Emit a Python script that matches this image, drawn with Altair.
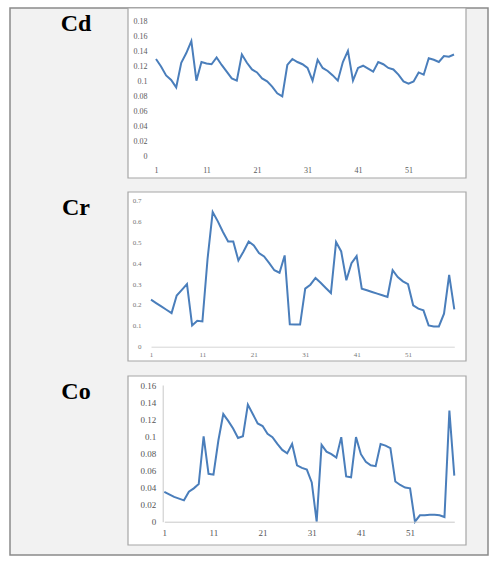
import altair as alt
import pandas as pd

idx = list(range(1, 61))

cd = [0.130, 0.120, 0.108, 0.102, 0.092, 0.125, 0.138, 0.154, 0.101, 0.126,
      0.124, 0.123, 0.132, 0.122, 0.113, 0.104, 0.101, 0.136, 0.125, 0.116,
      0.112, 0.104, 0.100, 0.093, 0.084, 0.080, 0.122, 0.130, 0.126, 0.123,
      0.118, 0.101, 0.129, 0.118, 0.114, 0.108, 0.101, 0.126, 0.141, 0.101,
      0.118, 0.121, 0.117, 0.113, 0.126, 0.123, 0.118, 0.116, 0.109, 0.100,
      0.097, 0.100, 0.112, 0.109, 0.131, 0.129, 0.126, 0.134, 0.133, 0.136]

cr = [0.225, 0.209, 0.193, 0.177, 0.161, 0.245, 0.272, 0.300, 0.102, 0.124,
      0.121, 0.420, 0.645, 0.600, 0.549, 0.504, 0.504, 0.413, 0.456, 0.504,
      0.485, 0.448, 0.432, 0.400, 0.366, 0.354, 0.437, 0.107, 0.106, 0.106,
      0.278, 0.297, 0.329, 0.306, 0.281, 0.257, 0.501, 0.456, 0.318, 0.400,
      0.434, 0.278, 0.270, 0.262, 0.254, 0.246, 0.238, 0.366, 0.333, 0.313,
      0.299, 0.198, 0.182, 0.174, 0.102, 0.097, 0.097, 0.158, 0.344, 0.179]

co = [0.035, 0.032, 0.029, 0.027, 0.025, 0.035, 0.039, 0.044, 0.100, 0.056,
      0.055, 0.095, 0.126, 0.118, 0.109, 0.098, 0.100, 0.137, 0.126, 0.115,
      0.112, 0.103, 0.099, 0.091, 0.084, 0.080, 0.091, 0.066, 0.063, 0.061,
      0.046, 0.000, 0.090, 0.082, 0.079, 0.075, 0.099, 0.053, 0.052, 0.099,
      0.079, 0.070, 0.066, 0.065, 0.091, 0.089, 0.086, 0.047, 0.043, 0.040,
      0.039, 0.000, 0.0075, 0.0075, 0.008, 0.008, 0.0075, 0.0055, 0.130, 0.054]

x_ticks = [1, 11, 21, 31, 41, 51]
cd_ticks = [0, 0.02, 0.04, 0.06, 0.08, 0.1, 0.12, 0.14, 0.16, 0.18]
cr_ticks = [0, 0.1, 0.2, 0.3, 0.4, 0.5, 0.6, 0.7]
co_ticks = [0, 0.02, 0.04, 0.06, 0.08, 0.1, 0.12, 0.14, 0.16]
names = ["Cd", "Cr", "Co"]

W, H = 495, 561
LINE = "#4a7ebb"
SERIF = "Liberation Serif"
EMPTY = alt.Data(values=[{"k": 0}])


def box(x, x2, y, y2, fill, stroke, sw):
    return alt.Chart(EMPTY).mark_rect(fill=fill, stroke=stroke, strokeWidth=sw).encode(
        x=alt.value(x), x2=alt.value(x2), y=alt.value(y), y2=alt.value(y2))


def label(txt, y):
    return alt.Chart(EMPTY).mark_text(
        font=SERIF, fontWeight="bold", fontSize=24, align="center",
        baseline="alphabetic", color="black").encode(
        x=alt.value(76), y=alt.value(y), text=alt.value(txt))


def series(vals, xr, yr, ydom, yticks, fs, lc, yoff, ypad, xoff, xpad,
           xdomain, ydomain, dcolor):
    df = pd.DataFrame({"i": idx, "v": vals})
    return alt.Chart(df).mark_line(color=LINE, strokeWidth=2).encode(
        x=alt.X("i:Q", title="",
                scale=alt.Scale(domain=[1, 60], range=xr, nice=False, zero=False),
                axis=alt.Axis(values=x_ticks, format="d", orient="bottom",
                              offset=xoff, labelPadding=xpad, ticks=False,
                              grid=False, domain=xdomain, domainColor=dcolor,
                              labelFont=SERIF, labelFontSize=fs, labelColor=lc,
                              labelFlush=False, labelOverlap=False, zindex=1)),
        y=alt.Y("v:Q", title="",
                scale=alt.Scale(domain=ydom, range=yr, nice=False, zero=False),
                axis=alt.Axis(values=yticks, format="~g", orient="left",
                              offset=yoff, labelPadding=ypad, ticks=False,
                              grid=False, domain=ydomain, domainColor=dcolor,
                              labelFont=SERIF, labelFontSize=fs, labelColor=lc,
                              labelFlush=False, labelOverlap=False, zindex=1)),
    )


layers = [
    box(10, 488, 8, 555, "#f2f2f2", "#8a8a8a", 1.5),
    box(128, 466, 8, 178, "white", "#a6a6a6", 1.2),
    box(128, 466, 192, 361, "white", "#a6a6a6", 1.2),
    box(128, 466, 376, 545, "white", "#a6a6a6", 1.2),
    label(names[0], 31),
    label(names[1], 215),
    label(names[2], 399),
    series(cd, [156, 454], [156, 21.7], [0, 0.18], cd_ticks, 8, "#5a5a5a",
           -150, 3, 163 - H, 3, False, False, "#d0d0d0"),
    series(cr, [151, 454.3], [346.7, 200.5], [0, 0.7], cr_ticks, 7, "#777777",
           -145, 4, 346.7 - H, 4, True, False, "#d6d6d6"),
    series(co, [164.3, 454.3], [521.7, 385], [0, 0.16], co_ticks, 9, "#555555",
           -162.7, 7, 521.7 - H, 7, True, True, "#c8c8c8"),
]

chart = alt.layer(*layers).resolve_scale(
    x="independent", y="independent"
).properties(
    width=W, height=H, padding=0, background="white",
    autosize=alt.AutoSizeParams(type="none"),
).configure_view(strokeWidth=0)

chart.save("out.html", embed_options={"renderer": "svg", "actions": False})
